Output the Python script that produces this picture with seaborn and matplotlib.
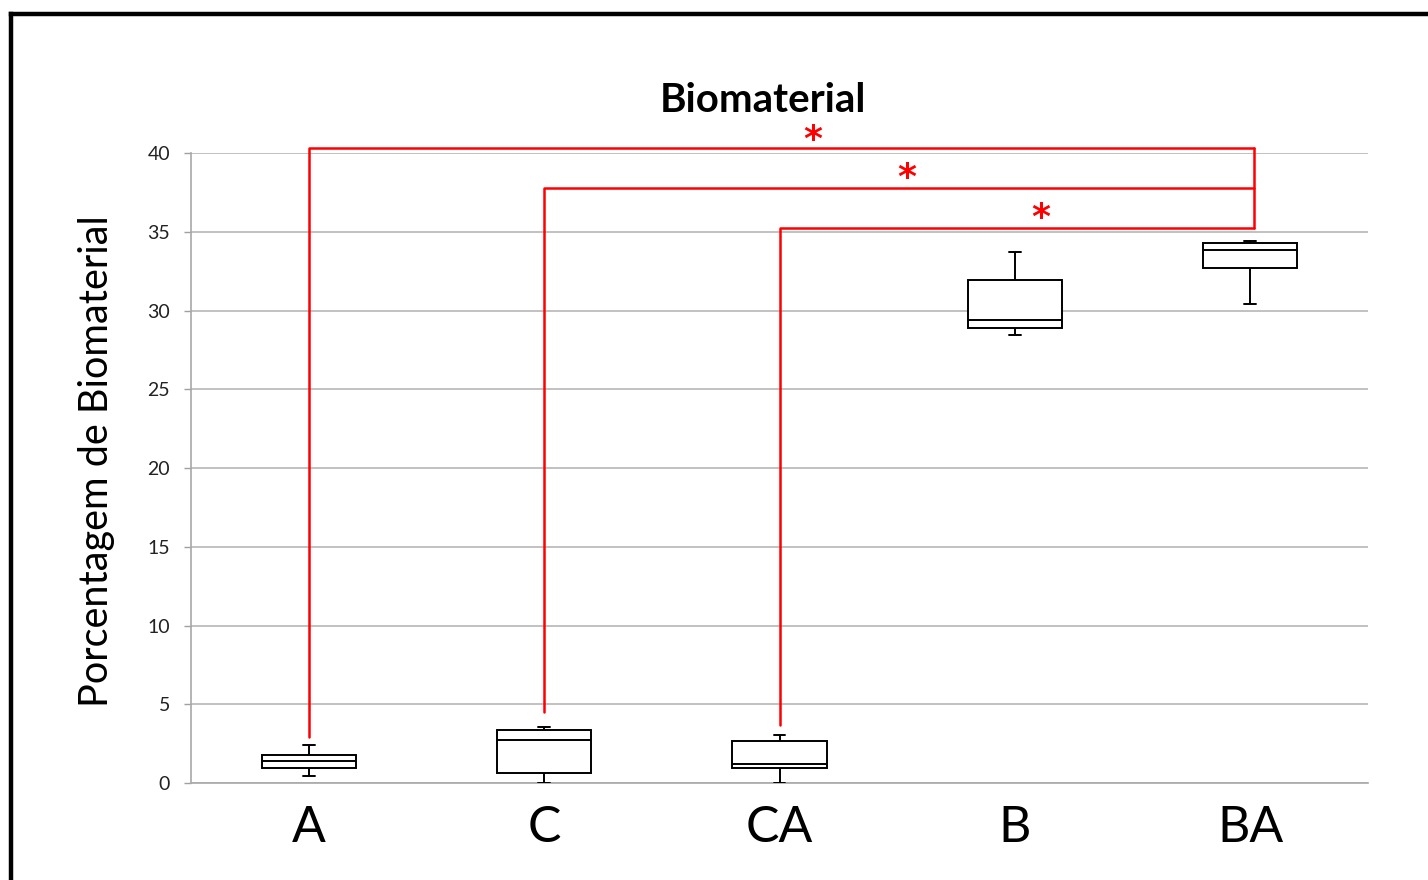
import numpy as np
import pandas as pd
import matplotlib
matplotlib.use("Agg")
import matplotlib.pyplot as plt
import seaborn as sns
from matplotlib.lines import Line2D

# ---- data ----
categories = ["A", "C", "CA", "B", "BA"]
whisker_low = [0.47, 0.00, 0.02, 28.44, 30.41]
q1_values = [0.95, 0.61, 0.97, 28.87, 32.72]
medians = [1.38, 2.71, 1.23, 29.40, 33.86]
q3_values = [1.75, 3.34, 2.69, 31.92, 34.30]
whisker_high = [2.41, 3.58, 3.05, 33.73, 34.43]

y_ticks = [0, 5, 10, 15, 20, 25, 30, 35, 40]

# significance brackets (from category -> to category "BA")
bracket_from = ["A", "C", "CA"]
bracket_to = "BA"
bracket_base = [2.9, 4.5, 3.7]
bracket_top = [40.35, 37.8, 35.25]
star_x = [2.14, 2.54, 3.11]
star_y = [40.8, 38.4, 35.9]

title = "Biomaterial"
ylabel = "Porcentagem de Biomaterial"

# five-number summaries -> samples whose quartiles match exactly
rows = []
for c, lo, a, m, b, hi in zip(categories, whisker_low, q1_values, medians, q3_values, whisker_high):
    for v in (lo, a, m, b, hi):
        rows.append({"grupo": c, "valor": v})
df = pd.DataFrame(rows)

sns.set_theme(style="white")
plt.rcParams["font.family"] = ["Lato", "DejaVu Sans"]

fig = plt.figure(figsize=(14.28, 8.8), dpi=100)
ax = fig.add_axes([0.1338, 0.1102, 0.958 - 0.1338, 0.8261 - 0.1102])

sns.boxplot(data=df, x="grupo", y="valor", order=categories, whis=(0, 100),
            width=0.4, color="white", linecolor="black", linewidth=1.4,
            ax=ax, zorder=3)

# shorten caps
for line in ax.lines:
    xd = np.asarray(line.get_xdata(), dtype=float)
    yd = np.asarray(line.get_ydata(), dtype=float)
    if len(xd) == 2 and yd[0] == yd[1]:
        c = xd.mean()
        w = abs(xd[1] - xd[0])
        if w < 0.39:  # caps (not medians)
            line.set_xdata([c - 0.025, c + 0.025])

ax.set_xlim(-0.5, len(categories) - 0.5)
ax.set_ylim(0, 40)
ax.set_yticks(y_ticks)
ax.set_yticklabels([str(t) for t in y_ticks], fontsize=14, color="#222222")
ax.tick_params(axis="y", length=5, width=1, color="#a0a0a0", direction="out", pad=10, left=True)
ax.tick_params(axis="x", length=0, pad=16, labelsize=36)
for lab in ax.get_xticklabels():
    lab.set_color("black")
ax.yaxis.grid(True, color="#b0b0b0", linewidth=1.1)
ax.set_axisbelow(True)
for s in ["top", "right"]:
    ax.spines[s].set_visible(False)
for s in ["left", "bottom"]:
    ax.spines[s].set_color("#a8a8a8")
    ax.spines[s].set_linewidth(1.2)

ax.set_xlabel("")
ax.set_ylabel(ylabel, fontsize=28.5, color="black")
ax.yaxis.set_label_coords(-0.0646, 0.511)

# significance brackets
pos = {c: i for i, c in enumerate(categories)}
xe = pos[bracket_to] + 0.015
for c, yb, yt in zip(bracket_from, bracket_base, bracket_top):
    xs = pos[c]
    ax.plot([xs, xs, xe], [yb, yt, yt], color="red", linewidth=1.8, clip_on=False, zorder=4)
ax.plot([xe, xe], [max(bracket_top), min(bracket_top)], color="red", linewidth=1.8,
        clip_on=False, zorder=4)
for sx, sy in zip(star_x, star_y):
    ax.text(sx, sy, "*", color="red", fontsize=26, fontweight="bold",
            ha="center", va="center", clip_on=False, family="DejaVu Sans")

fig.text(0.534, 0.886, title, fontsize=29, fontweight="bold", ha="center", va="center",
         color="black")

# outer frame (left and top edges visible)
fig.add_artist(Line2D([11 / 1428, 11 / 1428], [0, 1 - 14 / 880], transform=fig.transFigure,
                      color="black", linewidth=3.2, solid_capstyle="projecting"))
fig.add_artist(Line2D([11 / 1428, 1], [1 - 14 / 880, 1 - 14 / 880], transform=fig.transFigure,
                      color="black", linewidth=3.2, solid_capstyle="projecting"))

fig.savefig("out.png", dpi=100, facecolor="white")
